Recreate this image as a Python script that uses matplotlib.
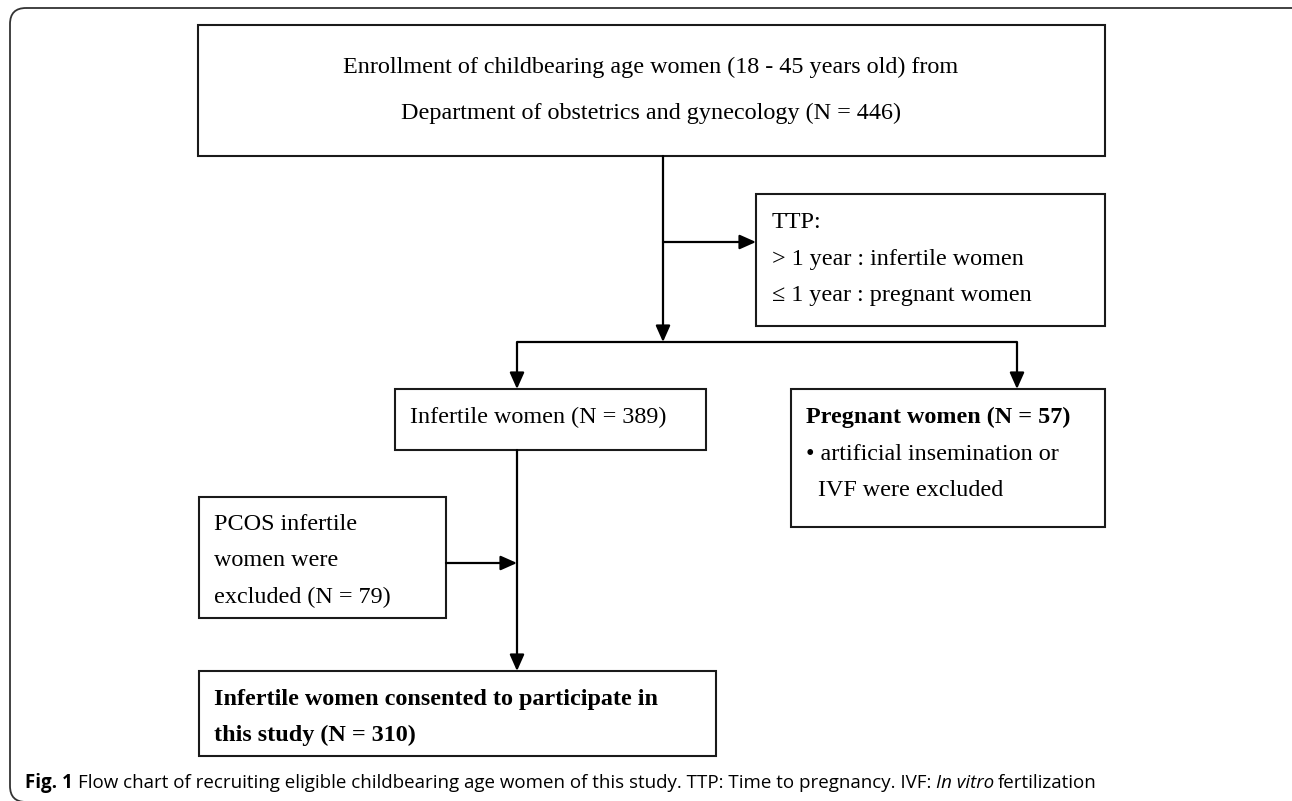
import matplotlib.pyplot as plt
from matplotlib.patches import Rectangle, FancyBboxPatch, FancyArrowPatch

# box texts of the flow chart
top_lines = ["Enrollment of childbearing age women (18 - 45 years old) from",
             "Department of obstetrics and gynecology (N = 446)"]
ttp_lines = ["TTP:", "> 1 year : infertile women", "\u2264 1 year : pregnant women"]
infertile_lines = ["Infertile women (N = 389)"]
pregnant_lines = ["Pregnant women (N = 57)", "\u2022 artificial insemination or", "  IVF were excluded"]
pcos_lines = ["PCOS infertile", "women were", "excluded (N = 79)"]
final_lines = ["Infertile women consented to participate in", "this study (N = 310)"]

W, H = 1292, 801
fig = plt.figure(figsize=(W / 100, H / 100), dpi=100)
ax = fig.add_axes([0, 0, 1, 1])
ax.set_xlim(0, W)
ax.set_ylim(H, 0)
ax.axis('off')

serif = 'Liberation Serif'
fs = 17.4
line_col = '#1a1a1a'

# outer rounded frame (clipped on right and bottom)
frame = FancyBboxPatch((10, 8), 1300, 794, boxstyle='round,pad=0,rounding_size=16',
                       fill=False, edgecolor='#333333', lw=1.3)
ax.add_patch(frame)


def box(x0, y0, x1, y1):
    ax.add_patch(Rectangle((x0, y0), x1 - x0, y1 - y0, fill=False,
                           edgecolor=line_col, lw=1.5))


def line(xs, ys):
    ax.plot(xs, ys, color='black', lw=1.6, solid_capstyle='butt')


def arrow(p0, p1):
    ax.add_patch(FancyArrowPatch(p0, p1, arrowstyle='-|>,head_length=0.9,head_width=0.4',
                                 mutation_scale=11, color='black', lw=1.6,
                                 shrinkA=0, shrinkB=0))


def lines_text(x, ys, texts, bold_first=False, bold_all=False, ha='left'):
    for i, (y, t) in enumerate(zip(ys, texts)):
        w = 'bold' if bold_all or (bold_first and i == 0) else 'normal'
        ax.text(x, y, t, fontsize=fs, family=serif, fontweight=w, ha=ha, va='center')


# boxes
box(198, 25, 1105, 156)
box(756, 194, 1105, 326)
box(395, 389, 706, 450)
box(791, 389, 1105, 527)
box(199, 497, 446, 618)
box(199, 671, 716, 756)

# texts
lines_text(651, [67, 113], top_lines, ha='center')
lines_text(772, [222, 259, 295], ttp_lines)
lines_text(410, [417], infertile_lines)
lines_text(806, [417, 454, 490], pregnant_lines, bold_first=True)
lines_text(214, [524, 561, 597], pcos_lines)
lines_text(214, [699, 735], final_lines, bold_all=True)

# connectors
arrow((663, 156), (663, 342))
arrow((663, 242), (756, 242))
line([517, 1017], [342, 342])
arrow((517, 342), (517, 389))
arrow((1017, 342), (1017, 389))
arrow((446, 563), (517, 563))
arrow((517, 450), (517, 671))

# caption
cap_y = 783
cfs = 13.5
t1 = ax.text(25, cap_y, "Fig. 1", fontsize=cfs, family='Open Sans', fontweight='bold',
             va='center', ha='left')
fig.canvas.draw()
r = fig.canvas.get_renderer()
bb = t1.get_window_extent(r)
x_next = bb.x1 + 5
t2 = ax.text(x_next, H - cap_y,
             "Flow chart of recruiting eligible childbearing age women of this study. TTP: Time to pregnancy. IVF: ",
             fontsize=cfs, family='Open Sans', va='center', ha='left', transform=None)
bb2 = t2.get_window_extent(r)
t3 = ax.text(bb2.x1, H - cap_y, "In vitro", fontsize=cfs, family='Open Sans', style='italic',
             va='center', ha='left', transform=None)
bb3 = t3.get_window_extent(r)
ax.text(bb3.x1 + 4, H - cap_y, "fertilization", fontsize=cfs, family='Open Sans',
        va='center', ha='left', transform=None)

fig.savefig('out.png', dpi=100)
